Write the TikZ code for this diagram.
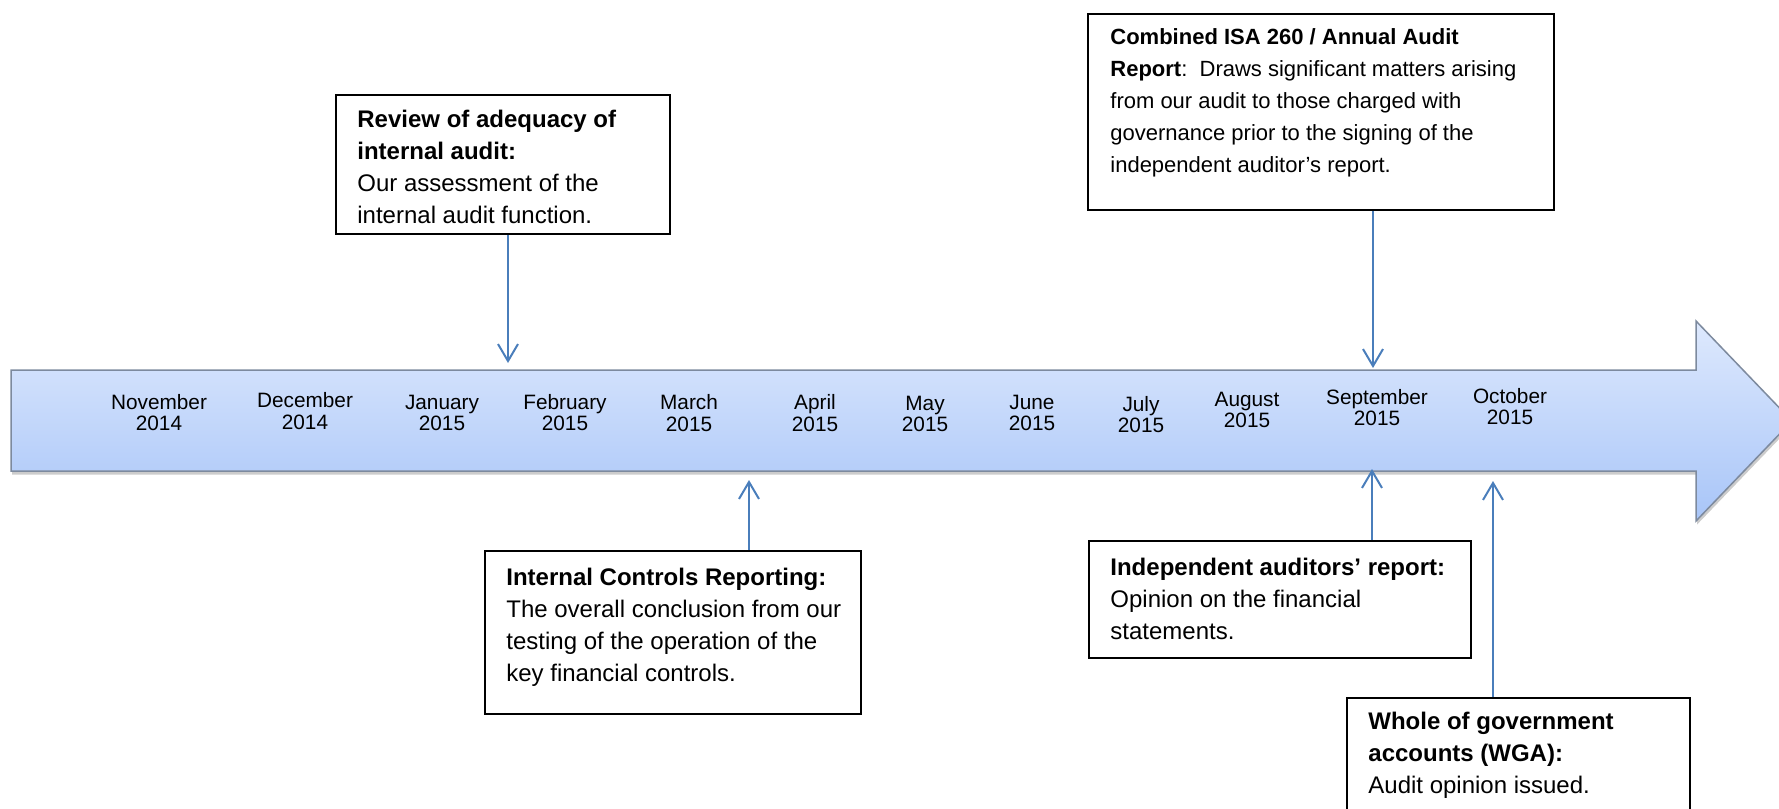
\documentclass[tikz,border=0pt]{standalone}
\usepackage{fontspec}
\setmainfont{Liberation Sans}
\usetikzlibrary{arrows.meta,shadows,fit}
\definecolor{connblue}{RGB}{74,126,187}
\definecolor{arrtop}{RGB}{222,233,253}
\definecolor{arrbot}{RGB}{168,197,248}
\definecolor{arredge}{RGB}{125,138,158}
\newcommand{\firstln}{\rule{0pt}{18pt}}
\begin{document}
\begin{tikzpicture}[x=0.5pt,y=-0.5pt,
  frame/.style={draw=black, line width=1pt, fill=white, inner sep=0pt},
  boxtext/.style={inner sep=0pt, anchor=north west, align=left, font=\fontsize{12}{16}\selectfont},
  month/.style={inner sep=0pt, align=center, font=\fontsize{10.4}{10.85}\selectfont},
  conn/.style={draw=connblue, line width=1pt, -{Straight Barb[length=8.5pt,width=10pt,line width=1pt]}}]
\useasboundingbox (0,0) rectangle (1779,809);
\clip (0,0) rectangle (1779,809);

% big timeline arrow
\path[top color=arrtop, bottom color=arrbot, draw=arredge, line width=0.75pt,
      drop shadow={opacity=0.4, shadow xshift=0.5pt, shadow yshift=-1.8pt}]
  (11,370) -- (1696,370) -- (1696,321) -- (1792,421) -- (1696,521) -- (1696,471) -- (11,471) -- cycle;

% month labels
\node[month] (m1)  at (159,412.5)  {November\\2014};
\node[month] (m2)  at (305,411)    {December\\2014};
\node[month] (m3)  at (442,413)    {January\\2015};
\node[month] (m4)  at (565,412.5)  {February\\2015};
\node[month] (m5)  at (689,413)    {March\\2015};
\node[month] (m6)  at (815,413)    {April\\2015};
\node[month] (m7)  at (925,414)    {May\\2015};
\node[month] (m8)  at (1032,413)   {June\\2015};
\node[month] (m9)  at (1141,414.5) {July\\2015};
\node[month] (m10) at (1247,410)   {August\\2015};
\node[month] (m11) at (1377,407.5) {September\\2015};
\node[month] (m12) at (1510,406.5) {October\\2015};

% boxes
\node[frame, fit={(336,95) (670,234)}] (b1) {};
\node[boxtext] (t1) at (357,91) {\firstln\textbf{Review of adequacy of}\\\textbf{internal audit:}\\Our assessment of the\\internal audit function.};

\node[frame, fit={(485,551) (861,714)}] (b2) {};
\node[boxtext] (t2) at (506,549) {\firstln\textbf{Internal Controls Reporting:}\\The overall conclusion from our\\testing of the operation of the\\key financial controls.};

\node[frame, fit={(1088,14) (1554,210)}] (b3) {};
\node[boxtext, font=\fontsize{11}{16}\selectfont] (t3) at (1110,8) {\firstln\textbf{Combined ISA 260 / Annual Audit}\\\textbf{Report}:\ \ Draws significant matters arising\\from our audit to those charged with\\governance prior to the signing of the\\independent auditor’s report.};

\node[frame, fit={(1089,541) (1471,658)}] (b4) {};
\node[boxtext] (t4) at (1110,539) {\firstln\textbf{Independent auditors’ report:}\\Opinion on the financial\\statements.};

\node[frame, fit={(1347,698) (1690,840)}] (b5) {};
\node[boxtext] (t5) at (1368,693) {\firstln\textbf{Whole of government}\\\textbf{accounts (WGA):}\\Audit opinion issued.};

% connectors
\coordinate (p1) at (508,363);
\coordinate (p2) at (749,480);
\coordinate (p3) at (1373,368);
\coordinate (p4) at (1372,469);
\coordinate (p5) at (1493,481);
\draw[conn] (b1.south -| p1) -- (p1);
\draw[conn] (b2.north -| p2) -- (p2);
\draw[conn] (b3.south -| p3) -- (p3);
\draw[conn] (b4.north -| p4) -- (p4);
\draw[conn] (b5.north -| p5) -- (p5);
\end{tikzpicture}
\end{document}
